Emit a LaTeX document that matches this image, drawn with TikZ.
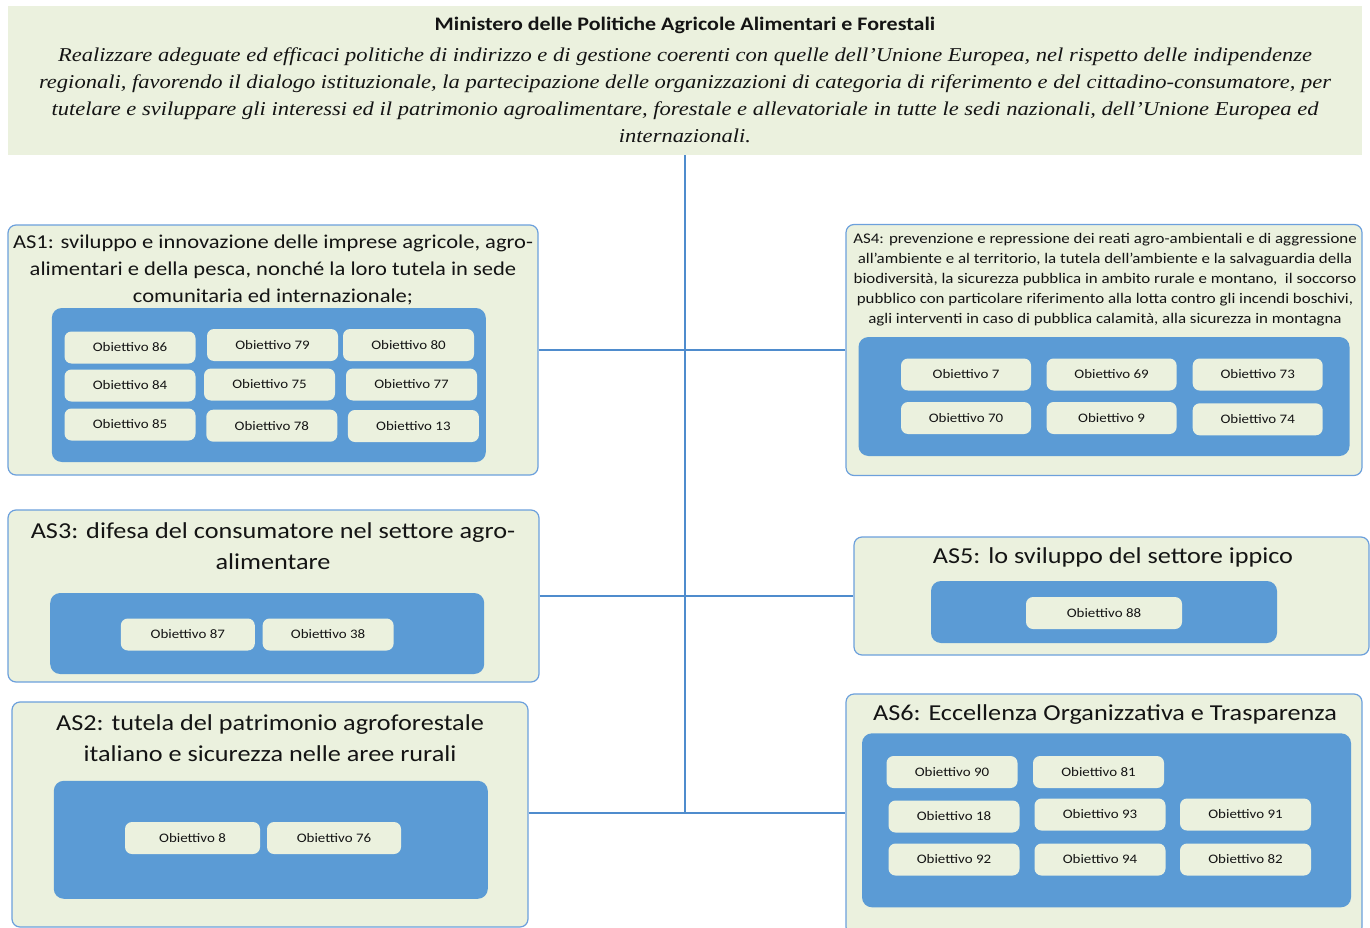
\documentclass[tikz,border=0pt]{standalone}
\usepackage{fontspec}
\setmainfont{Carlito}[FakeStretch=1.15]
\newfontfamily\missionfont{Liberation Serif}[FakeStretch=1.15]
\begin{document}
\definecolor{lg}{RGB}{235,241,222}
\definecolor{ib}{RGB}{91,155,213}
\definecolor{bd}{RGB}{108,160,220}
\definecolor{ln}{RGB}{79,140,205}
\definecolor{ink}{RGB}{20,20,20}
\begin{tikzpicture}[x=1pt,y=-1pt,
  hdrbox/.style={fill=lg, inner sep=0pt},
  grp/.style={draw=bd, line width=1.2pt, fill=lg, rounded corners=8pt, inner sep=0pt},
  innerbox/.style={fill=ib, rounded corners=10pt, inner sep=0pt},
  obj/.style={fill=lg, rounded corners=7pt, inner sep=0pt, minimum width=131pt,
    minimum height=32pt, text=ink, font=\fontsize{13}{15}\selectfont},
  bigtitle/.style={align=center, inner sep=0pt, text=ink, font=\fontsize{22.8}{31.5}\selectfont},
  conn/.style={draw=ln, line width=1.3pt}]
\useasboundingbox (0,0) rectangle (1370,928);

% ministry header
\node[hdrbox, minimum width=1354pt, minimum height=149pt] (hdr) at (685,80.5) {};
\node[inner sep=0pt, text=ink, font=\bfseries\fontsize{19.1}{22}\selectfont] (title) at (685,25)
  {Ministero delle Politiche Agricole Alimentari e Forestali};
\node[align=center, inner sep=0pt, text=ink, font=\missionfont\itshape\fontsize{19.6}{27}\selectfont] (mission) at (685,95)
  {Realizzare adeguate ed efficaci politiche di indirizzo e di gestione coerenti con quelle dell’Unione Europea, nel rispetto delle indipendenze\\
   regionali, favorendo il dialogo istituzionale, la partecipazione delle organizzazioni di categoria di riferimento e del cittadino-consumatore, per\\
   tutelare e sviluppare gli interessi ed il patrimonio agroalimentare, forestale e allevatoriale in tutte le sedi nazionali, dell’Unione Europea ed\\
   internazionali.};

% strategic area frames
\node[grp, minimum width=530pt, minimum height=250pt] (as1) at (273,350) {};
\node[grp, minimum width=516pt, minimum height=251pt] (as4) at (1104,350) {};
\node[grp, minimum width=531pt, minimum height=172pt] (as3) at (273.5,596) {};
\node[grp, minimum width=515pt, minimum height=118pt] (as5) at (1111.5,596) {};
\node[grp, minimum width=516pt, minimum height=225pt] (as2) at (270,814.5) {};
\node[grp, minimum width=516pt, minimum height=241pt] (as6) at (1104,814.5) {};

% connectors
\coordinate (j3) at (685,813);
\draw[conn] (hdr.south) -- (j3);
\draw[conn] (as1.east) -- (as4.west);
\draw[conn] (as3.east) -- (as5.west);
\draw[conn] (j3 -| as2.east) -- (j3 -| as6.west);

% AS1
\node[align=center, inner sep=0pt, text=ink, font=\fontsize{19.6}{26.7}\selectfont] (t1) at (273,270)
  {AS1: sviluppo e innovazione delle imprese agricole, agro-\\alimentari e della pesca, nonché la loro tutela in sede\\comunitaria ed internazionale;};
\node[innerbox, minimum width=434pt, minimum height=154pt] (in1) at (268.8,385) {};
\node[obj] (o86) at (130,347.5) {Obiettivo 86};
\node[obj] (o79) at (272.5,345) {Obiettivo 79};
\node[obj] (o80) at (408.5,345) {Obiettivo 80};
\node[obj] (o84) at (130,385.5) {Obiettivo 84};
\node[obj] (o75) at (269.5,384.5) {Obiettivo 75};
\node[obj] (o77) at (411.5,384.5) {Obiettivo 77};
\node[obj] (o85) at (130,424.5) {Obiettivo 85};
\node[obj] (o78) at (271.8,425.7) {Obiettivo 78};
\node[obj] (o13) at (413.4,426) {Obiettivo 13};

% AS4
\node[align=center, inner sep=0pt, text=ink, font=\fontsize{14.7}{20}\selectfont] (t4) at (1105,280)
  {AS4: prevenzione e repressione dei reati agro-ambientali e di aggressione\\
   all’ambiente e al territorio, la tutela dell’ambiente e la salvaguardia della\\
   biodiversità, la sicurezza pubblica in ambito rurale e montano, \ il soccorso\\
   pubblico con particolare riferimento alla lotta contro gli incendi boschivi,\\
   agli interventi in caso di pubblica calamità, alla sicurezza in montagna};
\node[innerbox, minimum width=491pt, minimum height=119pt] (in4) at (1104,396.5) {};
\node[obj, minimum width=130pt] (o7) at (966,374.5) {Obiettivo 7};
\node[obj, minimum width=130pt] (o69) at (1111.6,374.5) {Obiettivo 69};
\node[obj, minimum width=130pt] (o73) at (1257.7,374.5) {Obiettivo 73};
\node[obj, minimum width=130pt] (o70) at (966,418) {Obiettivo 70};
\node[obj, minimum width=130pt] (o9) at (1111.6,418) {Obiettivo 9};
\node[obj, minimum width=130pt] (o74) at (1257.7,419.3) {Obiettivo 74};

% AS3
\node[bigtitle] (t3) at (273,546) {AS3: difesa del consumatore nel settore agro-\\alimentare};
\node[innerbox, minimum width=434pt, minimum height=81pt] (in3) at (267.2,633.5) {};
\node[obj, minimum width=134pt] (o87) at (187.8,634.5) {Obiettivo 87};
\node[obj, minimum width=131pt] (o38) at (328.1,634.5) {Obiettivo 38};

% AS2
\node[bigtitle] (t2) at (270,738.3) {AS2: tutela del patrimonio agroforestale\\italiano e sicurezza nelle aree rurali};
\node[innerbox, minimum width=434pt, minimum height=118pt] (in2) at (270.8,839.8) {};
\node[obj, minimum width=135pt] (o8) at (192.5,838) {Obiettivo 8};
\node[obj, minimum width=134pt] (o76) at (334,838) {Obiettivo 76};

% AS5
\node[bigtitle] (t5) at (1113,557) {AS5: lo sviluppo del settore ippico};
\node[innerbox, minimum width=346pt, minimum height=62pt] (in5) at (1104,612) {};
\node[obj, minimum width=156pt] (o88) at (1104,613) {Obiettivo 88};

% AS6
\node[bigtitle] (t6) at (1105,715) {AS6: Eccellenza Organizzativa e Trasparenza};
\node[innerbox, minimum width=489pt, minimum height=174pt] (in6) at (1106.5,820.3) {};
\node[obj, minimum width=131pt] (o90) at (952,772) {Obiettivo 90};
\node[obj, minimum width=131pt] (o81) at (1098.5,772) {Obiettivo 81};
\node[obj, minimum width=131pt] (o18) at (954,816.5) {Obiettivo 18};
\node[obj, minimum width=131pt] (o93) at (1100,814.5) {Obiettivo 93};
\node[obj, minimum width=131pt] (o91) at (1245.5,814.5) {Obiettivo 91};
\node[obj, minimum width=131pt] (o92) at (954,859.5) {Obiettivo 92};
\node[obj, minimum width=131pt] (o94) at (1100,859.5) {Obiettivo 94};
\node[obj, minimum width=131pt] (o82) at (1245.5,859.5) {Obiettivo 82};
\end{tikzpicture}
\end{document}
